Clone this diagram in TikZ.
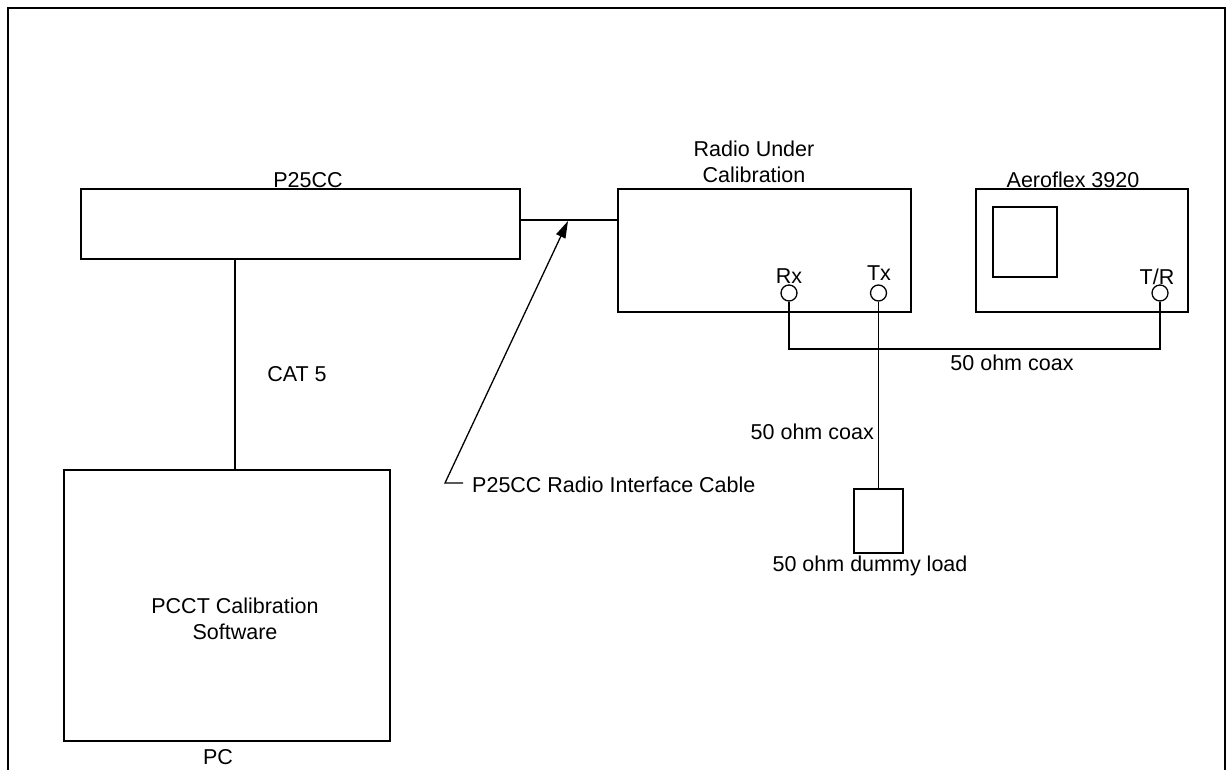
\documentclass[tikz,border=0pt]{standalone}
\usepackage{fontspec}
\setmainfont{Liberation Sans}
\usetikzlibrary{arrows.meta}
\begin{document}
\begin{tikzpicture}[x=1pt,y=-1pt,
  box/.style={draw, line width=1.3pt, inner sep=0pt},
  lbl/.style={font=\fontsize{21.5}{25}\selectfont, inner sep=0pt, anchor=base},
  port/.style={draw, line width=1.3pt, circle, minimum size=16pt, inner sep=0pt},
  wire/.style={line width=1.3pt}]
\useasboundingbox (0,0) rectangle (1231,769);
\clip (0,0) rectangle (1231,769);
\draw[line width=2pt] (7.5,790) -- (7.5,7.5) -- (1224.5,7.5) -- (1224.5,790);

% boxes
\node[box, minimum width=439pt, minimum height=70pt] (p25) at (300.5,224) {};
\node[box, minimum width=326pt, minimum height=271pt] (pc) at (227,605.5) {};
\node[box, minimum width=293pt, minimum height=123pt] (radio) at (764.5,250.5) {};
\node[box, minimum width=212pt, minimum height=123pt] (aero) at (1082,250.5) {};
\node[box, minimum width=64pt, minimum height=70pt] (screen) at (1025,242) {};
\node[box, minimum width=49pt, minimum height=64pt] (dummy) at (878.5,521) {};

% ports
\node[port] (rx) at (789,293) {};
\node[port] (tx) at (878.5,293) {};
\node[port] (tr) at (1160,293) {};

% labels
\node[lbl] (p25l) at (308,187) {P25CC};
\node[lbl] (radl1) at (754,156.5) {Radio Under};
\node[lbl] (radl2) at (754,182) {Calibration};
\node[lbl] (aerol) at (1073,187) {Aeroflex 3920};
\node[lbl] (rxl) at (789,283) {Rx};
\node[lbl] (txl) at (879,280) {Tx};
\node[lbl] (trl) at (1157,284) {T/R};
\node[lbl] (coax1) at (1012,370) {50 ohm coax};
\node[lbl] (cat) at (297,381) {CAT 5};
\node[lbl, anchor=base east] (coax2) at (874,439) {50 ohm coax};
\node[lbl] (dummyl) at (870,571) {50 ohm dummy load};
\node[lbl, anchor=base west] (cable) at (472,492) {P25CC Radio Interface Cable};
\node[lbl] (pcl1) at (235,613) {PCCT Calibration};
\node[lbl] (pcl2) at (235,639) {Software};
\node[lbl] (pcl) at (218,764) {PC};

% connectors
\coordinate (catx) at (235,0);
\draw[wire] (p25.south -| catx) -- (pc.north -| catx);
\coordinate (cy) at (0,220);
\draw[wire] (p25.east |- cy) -- (radio.west |- cy);
\coordinate (coaxy) at (0,349);
\draw[wire] (rx.south) -- (rx.south |- coaxy) -- (tr.south |- coaxy) -- (tr.south);
\draw[wire] (tx.south) -- (dummy.north);
\coordinate (cb) at (445,483);
\coordinate (ce) at (463,483);
\coordinate (tip) at (568,221);
\draw[wire, -{Triangle[length=17pt,width=10pt]}] (ce) -- (cb) -- (tip);
\end{tikzpicture}
\end{document}
